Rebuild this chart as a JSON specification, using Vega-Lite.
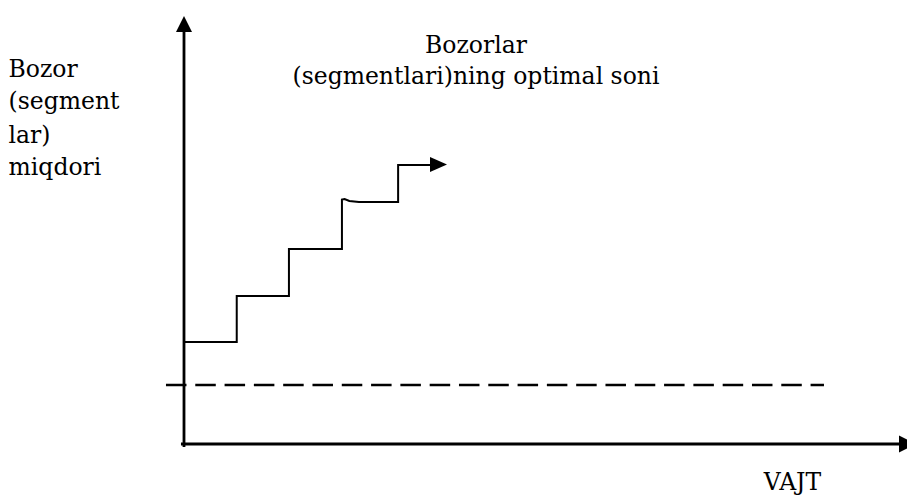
{
  "$schema": "https://vega.github.io/schema/vega-lite/v6.json",
  "width": 907,
  "height": 495,
  "autosize": "none",
  "padding": 0,
  "background": "white",
  "config": {"view": {"stroke": null}},
  "datasets": {
    "steps": [
      {"i": 0, "t": 0, "n": 2.17},
      {"i": 1, "t": 0.995, "n": 2.17},
      {"i": 2, "t": 0.995, "n": 3.149},
      {"i": 3, "t": 1.98, "n": 3.149},
      {"i": 4, "t": 1.98, "n": 4.149},
      {"i": 5, "t": 2.98, "n": 4.149},
      {"i": 6, "t": 2.98, "n": 5.2},
      {"i": 7, "t": 3.03, "n": 5.213},
      {"i": 8, "t": 3.12, "n": 5.17},
      {"i": 9, "t": 3.3, "n": 5.149},
      {"i": 10, "t": 4.04, "n": 5.149},
      {"i": 11, "t": 4.04, "n": 5.936},
      {"i": 12, "t": 4.68, "n": 5.936}
    ],
    "axes": [
      {"a": -0.057, "b": 0, "a2": 13.51, "b2": 0},
      {"a": 0, "b": -0.064, "a2": 0, "b2": 8.766}
    ],
    "dashed": [
      {"t": -0.34, "n": 1.255},
      {"t": 12.075, "n": 1.255}
    ],
    "labels": [
      {"text": "Bozorlar", "t": 5.509, "n": 8.326, "side": "center"},
      {"text": "(segmentlari)ning optimal soni", "t": 5.509, "n": 7.653, "side": "center"},
      {"text": "VAJT", "t": 11.481, "n": -0.98, "side": "center"},
      {"text": "Bozor", "t": -3.31, "n": 7.815, "side": "left"},
      {"text": "(segment", "t": -3.31, "n": 7.121, "side": "left"},
      {"text": "lar)", "t": -3.31, "n": 6.411, "side": "left"},
      {"text": "miqdori", "t": -3.31, "n": 5.723, "side": "left"}
    ]
  },
  "layer": [
    {
      "data": {"name": "axes"},
      "mark": {"type": "rule", "color": "black", "strokeWidth": 2.8},
      "encoding": {
        "x": {"field": "a", "type": "quantitative", "scale": {"domain": [-3.4717, 13.6415], "nice": false, "zero": false}, "axis": null},
        "x2": {"field": "a2"},
        "y": {"field": "b", "type": "quantitative", "scale": {"domain": [-1.0851, 9.4468], "nice": false, "zero": false}, "axis": null},
        "y2": {"field": "b2"}
      }
    },
    {
      "data": {"name": "dashed"},
      "mark": {"type": "line", "color": "black", "strokeWidth": 2.6, "strokeDash": [20.5, 8.8], "strokeCap": "butt"},
      "encoding": {
        "x": {"field": "t", "type": "quantitative", "axis": null},
        "y": {"field": "n", "type": "quantitative", "axis": null}
      }
    },
    {
      "data": {"name": "steps"},
      "mark": {"type": "line", "color": "black", "strokeWidth": 2, "strokeJoin": "miter", "strokeCap": "butt", "interpolate": "linear"},
      "encoding": {
        "x": {"field": "t", "type": "quantitative", "axis": null},
        "y": {"field": "n", "type": "quantitative", "axis": null},
        "order": {"field": "i", "type": "quantitative"}
      }
    },
    {
      "data": {"values": [{"t": 0, "n": 8.936}]},
      "mark": {"type": "point", "shape": "M0,-1L1,1L-1,1Z", "size": 256, "filled": true, "color": "black", "opacity": 1, "strokeWidth": 0},
      "encoding": {
        "x": {"field": "t", "type": "quantitative", "axis": null},
        "y": {"field": "n", "type": "quantitative", "axis": null}
      }
    },
    {
      "data": {"values": [{"t": 13.651, "n": 0}]},
      "mark": {"type": "point", "shape": "M1,0L-1,1L-1,-1Z", "size": 289, "filled": true, "color": "black", "opacity": 1, "strokeWidth": 0},
      "encoding": {
        "x": {"field": "t", "type": "quantitative", "axis": null},
        "y": {"field": "n", "type": "quantitative", "axis": null}
      }
    },
    {
      "data": {"values": [{"t": 4.802, "n": 5.947}]},
      "mark": {"type": "point", "shape": "M1,0L-1,0.88L-1,-0.88Z", "size": 289, "filled": true, "color": "black", "opacity": 1, "strokeWidth": 0},
      "encoding": {
        "x": {"field": "t", "type": "quantitative", "axis": null},
        "y": {"field": "n", "type": "quantitative", "axis": null}
      }
    },
    {
      "data": {"name": "labels"},
      "transform": [{"filter": "datum.side === 'center'"}],
      "mark": {"type": "text", "font": "DejaVu Serif", "fontSize": 23.5, "color": "black", "align": "center", "baseline": "alphabetic"},
      "encoding": {
        "x": {"field": "t", "type": "quantitative", "axis": null},
        "y": {"field": "n", "type": "quantitative", "axis": null},
        "text": {"field": "text"}
      }
    },
    {
      "data": {"name": "labels"},
      "transform": [{"filter": "datum.side === 'left'"}],
      "mark": {"type": "text", "font": "DejaVu Serif", "fontSize": 23.5, "color": "black", "align": "left", "baseline": "alphabetic"},
      "encoding": {
        "x": {"field": "t", "type": "quantitative", "axis": null},
        "y": {"field": "n", "type": "quantitative", "axis": null},
        "text": {"field": "text"}
      }
    }
  ]
}
